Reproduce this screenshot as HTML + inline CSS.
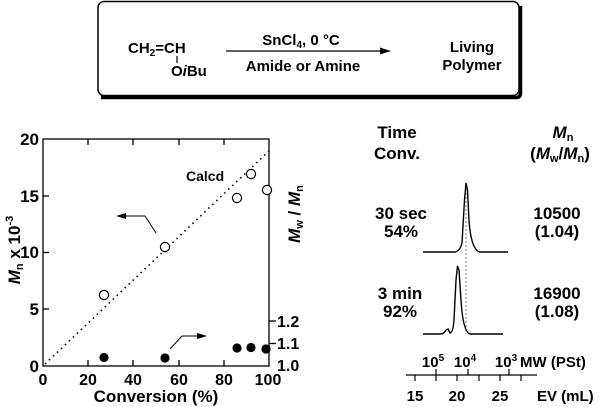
<!DOCTYPE html>
<html><head><meta charset="utf-8"><style>
body{margin:0;background:#fff;}
svg{display:block;font-family:"Liberation Sans",Arial,sans-serif;font-weight:bold;}
</style></head><body>
<svg width="600" height="407" viewBox="0 0 600 407" xmlns="http://www.w3.org/2000/svg">
<rect x="98" y="1.5" width="421" height="94" rx="6" fill="#fff" stroke="#000" stroke-width="1.5"/>
<path d="M101 97.5 H516 Q520.5 97.5 520.5 93 V6" fill="none" stroke="#000" stroke-width="3.5"/>
<g font-size="15">
<text x="128" y="53">CH<tspan font-size="10" dy="3">2</tspan><tspan dy="-3">=CH</tspan></text>
<line x1="177" y1="56" x2="177" y2="63" stroke="#000" stroke-width="1.2"/>
<text x="171" y="76">O<tspan font-style="italic">i</tspan>Bu</text>
<text x="301" y="45" text-anchor="middle">SnCl<tspan font-size="10" dy="3">4</tspan><tspan dy="-3">, 0 °C</tspan></text>
<text x="303" y="71" text-anchor="middle">Amide or Amine</text>
<text x="472" y="52" text-anchor="middle">Living</text>
<text x="472" y="70" text-anchor="middle">Polymer</text>
</g>
<line x1="226" y1="51" x2="382" y2="51" stroke="#000" stroke-width="1.2"/>
<polygon points="391,51 380,47.5 380,54.5" fill="#000"/>

<rect x="43" y="139" width="226" height="227" fill="none" stroke="#000" stroke-width="1.3"/>
<g stroke="#000" stroke-width="1.3">
<line x1="88" y1="366" x2="88" y2="360"/><line x1="133" y1="366" x2="133" y2="360"/><line x1="179" y1="366" x2="179" y2="360"/><line x1="224" y1="366" x2="224" y2="360"/>
<line x1="88" y1="139" x2="88" y2="145"/><line x1="133" y1="139" x2="133" y2="145"/><line x1="179" y1="139" x2="179" y2="145"/><line x1="224" y1="139" x2="224" y2="145"/>
<line x1="43" y1="196" x2="49" y2="196"/><line x1="43" y1="252.5" x2="49" y2="252.5"/><line x1="43" y1="309" x2="49" y2="309"/>
<line x1="269" y1="321" x2="276" y2="321"/><line x1="269" y1="343.5" x2="276" y2="343.5"/>
</g>
<g font-size="17" text-anchor="end">
<text x="39" y="145">20</text><text x="39" y="202">15</text><text x="39" y="258">10</text><text x="39" y="315">5</text><text x="39" y="372">0</text>
</g>
<g font-size="16" text-anchor="start">
<text x="277" y="327">1.2</text><text x="277" y="349">1.1</text><text x="277" y="371">1.0</text>
</g>
<g font-size="16" text-anchor="middle">
<text x="43" y="385">0</text><text x="88" y="385">20</text><text x="133" y="385">40</text><text x="179" y="385">60</text><text x="224" y="385">80</text><text x="268" y="385">100</text>
</g>
<text x="156" y="402" font-size="17" text-anchor="middle">Conversion (%)</text>
<text transform="translate(20,250) rotate(-90)" font-size="17" text-anchor="middle"><tspan font-style="italic">M</tspan><tspan font-size="11" dy="3">n</tspan><tspan dy="-3"> x 10</tspan><tspan font-size="11" dy="-7">-3</tspan></text>
<text transform="translate(300,214) rotate(-90)" font-size="17" text-anchor="middle"><tspan font-style="italic">M</tspan><tspan font-size="11" dy="3">w</tspan><tspan dy="-3"> / </tspan><tspan font-style="italic">M</tspan><tspan font-size="11" dy="3">n</tspan></text>
<line x1="45" y1="364" x2="270" y2="150" stroke="#000" stroke-width="1.6" stroke-dasharray="1.5 4"/>
<text x="186" y="181" font-size="14">Calcd</text>
<g fill="#fff" stroke="#000" stroke-width="1.2">
<circle cx="104" cy="295" r="4.6"/><circle cx="165" cy="247" r="4.6"/><circle cx="237" cy="198" r="4.6"/><circle cx="251" cy="174" r="4.6"/><circle cx="267" cy="190" r="4.6"/>
</g>
<g fill="#000">
<circle cx="104" cy="357.5" r="4.6"/><circle cx="165" cy="358" r="4.6"/><circle cx="237" cy="348" r="4.6"/><circle cx="251" cy="347.5" r="4.6"/><circle cx="266" cy="349" r="4.6"/>
</g>
<polyline points="156,233 145,216 124,216" fill="none" stroke="#000" stroke-width="1"/>
<polygon points="116,216 126,213 126,219" fill="#000"/>
<polyline points="170,349 182,336 199,336" fill="none" stroke="#000" stroke-width="1"/>
<polygon points="207,336 197,333 197,339" fill="#000"/>

<g font-size="17" text-anchor="middle">
<text x="397" y="138">Time</text><text x="397" y="159">Conv.</text>
<text x="563" y="138" font-style="italic">M<tspan font-size="11" font-style="normal" dy="3">n</tspan></text>
<text x="560" y="159">(<tspan font-style="italic">M</tspan><tspan font-size="11" dy="3">w</tspan><tspan dy="-3">/</tspan><tspan font-style="italic">M</tspan><tspan font-size="11" dy="3">n</tspan><tspan dy="-3">)</tspan></text>
<text x="401" y="219">30 sec</text><text x="401" y="237">54%</text>
<text x="557" y="219">10500</text><text x="557" y="237">(1.04)</text>
<text x="400" y="299">3 min</text><text x="400" y="317">92%</text>
<text x="557" y="299">16900</text><text x="557" y="317">(1.08)</text>
</g>
<line x1="466" y1="185" x2="466" y2="334" stroke="#777" stroke-width="1" stroke-dasharray="2 2"/>
<path d="M423 252 L455 252 Q460 251 462 243 L464.5 200 L466 183 L467.5 190 L469 220 Q471 250 480 252 L508 252" fill="none" stroke="#000" stroke-width="1.4"/>
<path d="M423 334 L440 334 Q444 334 446 330 L448 329 L450 333 Q453 333 454 320 L456 280 L457.5 266 L459 270 L461 300 Q463 332 470 334 L503 334" fill="none" stroke="#000" stroke-width="1.4"/>
<line x1="406" y1="375" x2="537" y2="375" stroke="#000" stroke-width="1.2"/>
<g stroke="#000" stroke-width="1.2">
<line x1="415" y1="375" x2="415" y2="381"/><line x1="436" y1="375" x2="436" y2="381"/><line x1="457" y1="375" x2="457" y2="381"/><line x1="479" y1="375" x2="479" y2="381"/><line x1="500" y1="375" x2="500" y2="381"/><line x1="521" y1="375" x2="521" y2="381"/>
<line x1="436" y1="375" x2="436" y2="369"/><line x1="468" y1="375" x2="468" y2="369"/><line x1="509" y1="375" x2="509" y2="369"/>
</g>
<g font-size="15" text-anchor="middle">
<text x="433" y="367">10<tspan font-size="10" dy="-6">5</tspan></text>
<text x="465" y="367">10<tspan font-size="10" dy="-6">4</tspan></text>
<text x="506" y="367">10<tspan font-size="10" dy="-6">3</tspan></text>
<text x="415" y="401">15</text><text x="457" y="401">20</text><text x="500" y="401">25</text>
</g>
<text x="520" y="367" font-size="15">MW (PSt)</text>
<text x="537" y="401" font-size="15">EV (mL)</text>
</svg>
</body></html>
